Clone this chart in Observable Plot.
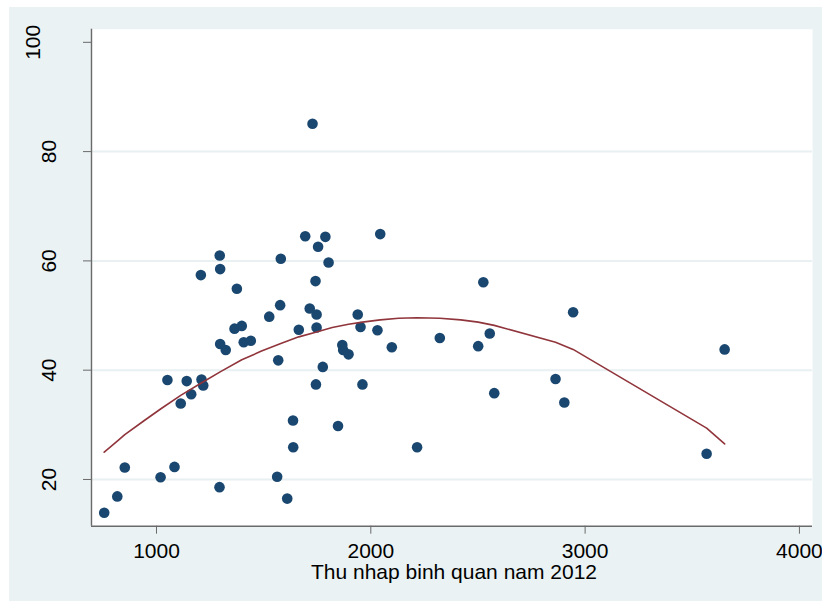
<!DOCTYPE html>
<html><head><meta charset="utf-8">
<script src="https://cdn.jsdelivr.net/npm/d3@7"></script>
<script src="https://cdn.jsdelivr.net/npm/@observablehq/plot@0.6"></script>
<style>
html,body{margin:0;padding:0;background:#fff;width:822px;height:601px;overflow:hidden;}
#chart{position:absolute;left:9px;top:7px;width:813px;height:594px;background:#EAF2F3;}
#chart svg{display:block;}
</style></head><body><div id="chart"></div>
<script>
// Scatter data: income (x) vs share (y)
const thuNhap = [756, 817, 852, 1019, 1084, 1051, 1113, 1141, 1162, 1207, 1210, 1218, 1294, 1295, 1297, 1297, 1323, 1364, 1375, 1398, 1407, 1440, 1526, 1563, 1568, 1577, 1580, 1610, 1637, 1638, 1664, 1694, 1715, 1728, 1744, 1742, 1747, 1747, 1754, 1776, 1788, 1803, 1847, 1867, 1871, 1896, 1939, 1952, 1961, 2031, 2044, 2098, 2216, 2322, 2501, 2525, 2555, 2576, 2862, 2903, 2944, 3567, 3651];
const tyLe = [13.9, 16.9, 22.2, 20.4, 22.3, 38.2, 33.9, 38.0, 35.6, 57.4, 38.3, 37.2, 18.6, 61.0, 58.5, 44.8, 43.7, 47.6, 54.9, 48.1, 45.1, 45.4, 49.8, 20.5, 41.8, 51.9, 60.4, 16.5, 30.8, 25.9, 47.4, 64.5, 51.3, 85.1, 37.4, 56.3, 50.2, 47.8, 62.6, 40.6, 64.4, 59.7, 29.8, 44.6, 43.7, 42.9, 50.2, 47.9, 37.4, 47.3, 64.9, 44.2, 25.9, 45.9, 44.4, 56.1, 46.7, 35.8, 38.4, 34.1, 50.6, 24.7, 43.8];
// Fitted line
const fitX = [756, 817, 852, 940, 1019, 1113, 1207, 1297, 1398, 1490, 1580, 1664, 1747, 1820, 1896, 1961, 2044, 2130, 2216, 2322, 2420, 2501, 2576, 2862, 2944, 3567, 3651];
const fitY = [25.0, 27.0, 28.2, 30.7, 32.9, 35.4, 37.6, 39.7, 41.9, 43.5, 44.9, 46.1, 47.0, 47.8, 48.4, 48.8, 49.2, 49.5, 49.6, 49.5, 49.2, 48.8, 48.2, 45.1, 43.8, 29.4, 26.5];
const xTicks = [1000, 2000, 3000, 4000];
const yTicks = [20, 40, 60, 80, 100];
const gridY = [20, 40, 60, 80];
const xDomain = [696.7, 4061];
const yDomain = [11.45, 102.4];
const xTitle = "Thu nhap binh quan nam 2012";

const points = thuNhap.map((x, i) => ({x, y: tyLe[i]}));
const fit = fitX.map((x, i) => ({x, y: fitY[i]}));
const font = "Arial, 'Liberation Sans', Helvetica, sans-serif";
const axisColor = "#6a6a6a";

const plot = Plot.plot({
  width: 813, height: 594,
  marginLeft: 82, marginRight: 10, marginTop: 21.7, marginBottom: 75.3,
  x: {domain: xDomain},
  y: {domain: yDomain},
  style: {background: "transparent", fontFamily: font, overflow: "visible", color: "#000"},
  marks: [
    Plot.frame({fill: "white", stroke: null}),
    Plot.ruleY(gridY, {stroke: "#E8F0F2", strokeWidth: 2}),
    Plot.ruleX([xDomain[0]], {stroke: axisColor, strokeWidth: 1.4}),
    Plot.ruleY([yDomain[0]], {stroke: axisColor, strokeWidth: 1.4}),
    Plot.axisX({ticks: xTicks, tickSize: 8, tickPadding: 8.7, fontSize: 21, stroke: axisColor, fill: "#000", tickFormat: d => String(d), label: null}),
    Plot.axisY({ticks: yTicks, tickSize: 8, tickFormat: () => "", stroke: axisColor, label: null}),
    Plot.text(yTicks.filter(d => String(d).length < 3), {y: d => d, frameAnchor: "left", text: d => String(d), rotate: -90, dx: -42, fontSize: 21, fill: "#000", textAnchor: "middle", lineAnchor: "middle"}),
    Plot.text(yTicks.filter(d => String(d).length >= 3), {y: d => d, frameAnchor: "left", text: d => String(d), rotate: -90, dx: -58, fontSize: 21, fill: "#000", textAnchor: "middle", lineAnchor: "middle"}),
    Plot.text([xTitle], {frameAnchor: "bottom", text: d => d, dy: 52.6, dx: 2, lineAnchor: "bottom", fontSize: 21, fill: "#000"}),
    Plot.dot(points, {x: "x", y: "y", r: 5.3, fill: "#1a476f", stroke: null}),
    Plot.line(fit, {x: "x", y: "y", stroke: "#90353b", strokeWidth: 1.6})
  ]
});
document.getElementById("chart").appendChild(plot);
</script>
</body></html>
